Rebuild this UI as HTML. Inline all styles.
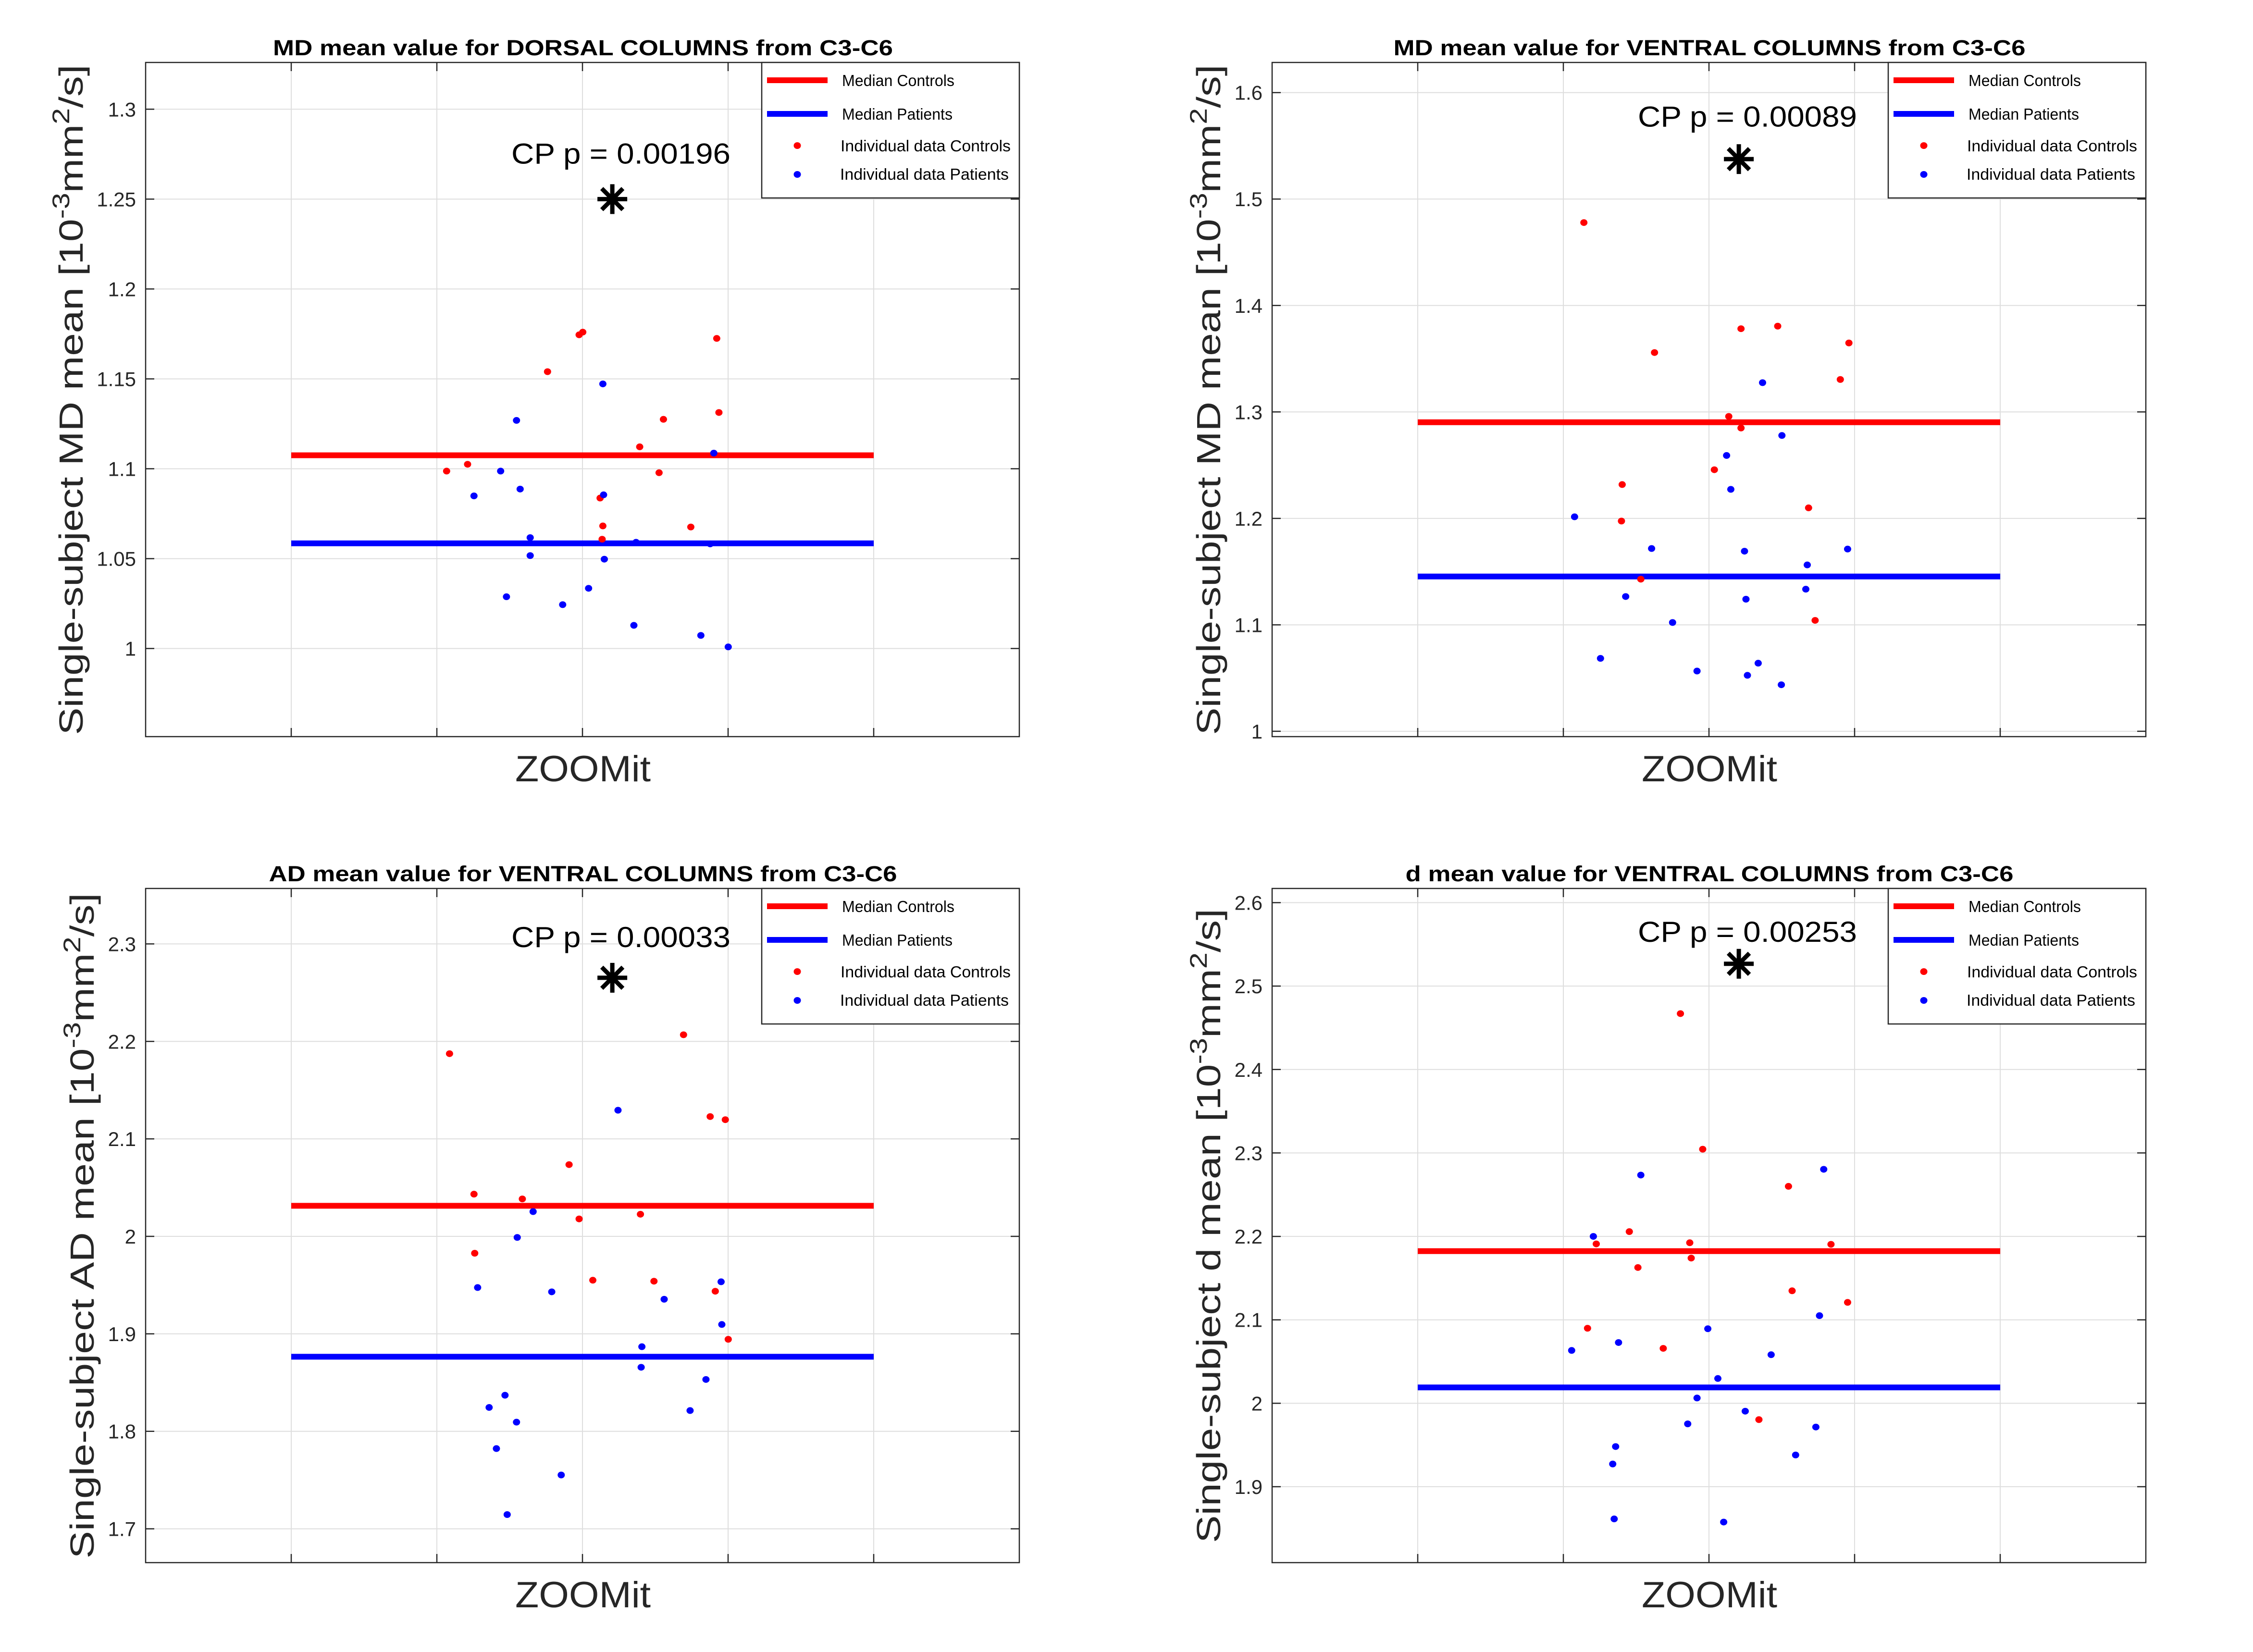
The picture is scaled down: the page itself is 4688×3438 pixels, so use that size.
<!DOCTYPE html>
<html><head><meta charset="utf-8">
<style>
html,body{margin:0;padding:0;background:#fff;}
svg{display:block;font-family:"Liberation Sans",sans-serif;}
</style></head>
<body>
<svg id="fig" width="4688" height="3438" viewBox="0 0 4688 3438" xmlns="http://www.w3.org/2000/svg"></svg>
<script>
// ---------- Panel 1: MD dorsal ----------
const p1Title = "MD mean value for DORSAL COLUMNS from C3-C6";
const p1YLabel = "MD";
const p1Ticks = [1, 1.05, 1.1, 1.15, 1.2, 1.25, 1.3];
const p1TickLabels = ["1", "1.05", "1.1", "1.15", "1.2", "1.25", "1.3"];
const p1YLim = [0.951, 1.326];
const p1MedianControls = 1.1075;
const p1MedianPatients = 1.0585;
const p1Pvalue = "CP p = 0.00196";
const p1StarY = 1.25;
const p1TextY = 1.2697;
const p1CtrlX = [2.067,2.211,2.760,2.977,3.002,3.121,3.140,3.135,3.393,3.526,3.556,3.744,3.922,3.937];
const p1CtrlY = [1.0987,1.1025,1.154,1.1745,1.176,1.0837,1.0682,1.0608,1.1122,1.0978,1.1275,1.0676,1.1725,1.1313];
const p1PatX = [2.255,2.438,2.547,2.572,2.641,2.641,2.478,2.864,3.042,3.140,3.145,3.150,3.353,3.368,3.813,3.877,3.902,4.001];
const p1PatY = [1.0849,1.0987,1.1269,1.0887,1.0617,1.0517,1.0288,1.0244,1.0335,1.1472,1.0855,1.0497,1.0129,1.0591,1.0073,1.0582,1.1087,1.0009];

// ---------- Panel 2: MD ventral ----------
const p2Title = "MD mean value for VENTRAL COLUMNS from C3-C6";
const p2YLabel = "MD";
const p2Ticks = [1, 1.1, 1.2, 1.3, 1.4, 1.5, 1.6];
const p2TickLabels = ["1", "1.1", "1.2", "1.3", "1.4", "1.5", "1.6"];
const p2YLim = [0.995, 1.6283];
const p2MedianControls = 1.2903;
const p2MedianPatients = 1.1454;
const p2Pvalue = "CP p = 0.00089";
const p2StarY = 1.5375;
const p2TextY = 1.568;
const p2CtrlX = [2.141,2.626,3.220,3.472,3.961,3.902,3.136,3.220,3.037,2.404,2.399,3.684,2.532,3.729];
const p2CtrlY = [1.4779,1.3558,1.3782,1.3806,1.3648,1.3305,1.2958,1.2849,1.2457,1.2318,1.1975,1.2099,1.1429,1.1042];
const p2PatX = [3.368,3.501,3.121,3.150,2.077,2.606,3.244,3.952,3.675,2.428,3.665,3.254,2.750,2.255,2.918,3.264,3.338,3.497];
const p2PatY = [1.3275,1.2779,1.2591,1.2273,1.2015,1.1717,1.1692,1.1712,1.1563,1.1266,1.1335,1.1241,1.1022,1.0685,1.0566,1.0526,1.064,1.0437];

// ---------- Panel 3: AD ventral ----------
const p3Title = "AD mean value for VENTRAL COLUMNS from C3-C6";
const p3YLabel = "AD";
const p3Ticks = [1.7, 1.8, 1.9, 2, 2.1, 2.2, 2.3];
const p3TickLabels = ["1.7", "1.8", "1.9", "2", "2.1", "2.2", "2.3"];
const p3YLim = [1.6653, 2.3569];
const p3MedianControls = 2.0314;
const p3MedianPatients = 1.8765;
const p3Pvalue = "CP p = 0.00033";
const p3StarY = 2.2653;
const p3TextY = 2.2967;
const p3CtrlX = [2.087,3.694,3.877,3.981,2.908,2.255,2.587,2.977,3.398,2.260,3.071,3.491,3.912,4.001];
const p3CtrlY = [2.1874,2.2068,2.1229,2.1197,2.0736,2.0433,2.0384,2.0179,2.0227,1.9827,1.955,1.954,1.9437,1.8944];
const p3PatX = [3.244,2.661,2.552,2.280,2.789,3.952,3.561,3.957,3.408,3.403,3.848,2.468,2.359,2.547,3.739,2.409,2.854,2.483];
const p3PatY = [2.1294,2.0254,1.9989,1.9475,1.9431,1.9534,1.9355,1.9096,1.8868,1.8657,1.8532,1.837,1.8245,1.8094,1.8213,1.7823,1.7552,1.7146];

// ---------- Panel 4: d ventral ----------
const p4Title = "d mean value for VENTRAL COLUMNS from C3-C6";
const p4YLabel = "d";
const p4Ticks = [1.9, 2, 2.1, 2.2, 2.3, 2.4, 2.5, 2.6];
const p4TickLabels = ["1.9", "2", "2.1", "2.2", "2.3", "2.4", "2.5", "2.6"];
const p4YLim = [1.809, 2.617];
const p4MedianControls = 2.1823;
const p4MedianPatients = 2.019;
const p4Pvalue = "CP p = 0.00253";
const p4StarY = 2.5267;
const p4TextY = 2.553;
const p4CtrlX = [2.804,2.957,3.546,2.453,2.226,2.868,2.878,2.512,3.838,3.571,3.952,2.166,2.686,3.343];
const p4CtrlY = [2.467,2.3045,2.260,2.2057,2.191,2.1924,2.174,2.1627,2.1905,2.1348,2.1209,2.0899,2.0658,1.9804];
const p4PatX = [2.206,2.532,3.788,3.759,2.992,2.057,2.379,3.427,3.061,2.918,3.249,2.854,3.734,2.359,3.595,2.339,2.349,3.101];
const p4PatY = [2.2,2.2735,2.2804,2.105,2.0893,2.0633,2.0728,2.0582,2.0297,2.0063,1.9905,1.9753,1.9715,1.9481,1.938,1.9272,1.8614,1.8576];

const xCategories = ["ZOOMit"];
const xLim = [0, 6];
const xGrid = [1, 2, 3, 4, 5];
const starX = 3.205;
const medianFrom = 1, medianTo = 5;

const NS = "http://www.w3.org/2000/svg";
const svg = document.getElementById('fig');
function mk(tag, attrs, parent){
  const e = document.createElementNS(NS, tag);
  for (const k in attrs) e.setAttribute(k, attrs[k]);
  (parent || svg).appendChild(e);
  return e;
}

const panels = [
  {ox:0, oy:0, title:p1Title, tlen:1290, ylab:p1YLabel, ticks:p1Ticks, tl:p1TickLabels, ylim:p1YLim, mc:p1MedianControls, mp:p1MedianPatients, pv:p1Pvalue, sy:p1StarY, ty:p1TextY, cx:p1CtrlX, cy:p1CtrlY, px:p1PatX, py:p1PatY, lab:"panel-md-dorsal", ylx:172, yll:1395},
  {ox:2344, oy:0, title:p2Title, tlen:1315, ylab:p2YLabel, ticks:p2Ticks, tl:p2TickLabels, ylim:p2YLim, mc:p2MedianControls, mp:p2MedianPatients, pv:p2Pvalue, sy:p2StarY, ty:p2TextY, cx:p2CtrlX, cy:p2CtrlY, px:p2PatX, py:p2PatY, lab:"panel-md-ventral", ylx:195, yll:1395},
  {ox:0, oy:1719, title:p3Title, tlen:1307, ylab:p3YLabel, ticks:p3Ticks, tl:p3TickLabels, ylim:p3YLim, mc:p3MedianControls, mp:p3MedianPatients, pv:p3Pvalue, sy:p3StarY, ty:p3TextY, cx:p3CtrlX, cy:p3CtrlY, px:p3PatX, py:p3PatY, lab:"panel-ad-ventral", ylx:195, yll:1385},
  {ox:2344, oy:1719, title:p4Title, tlen:1265, ylab:p4YLabel, ticks:p4Ticks, tl:p4TickLabels, ylim:p4YLim, mc:p4MedianControls, mp:p4MedianPatients, pv:p4Pvalue, sy:p4StarY, ty:p4TextY, cx:p4CtrlX, cy:p4CtrlY, px:p4PatX, py:p4PatY, lab:"panel-d-ventral", ylx:195, yll:1320},
];

const AX_L = 303, AX_R = 2121, AX_T = 130, AX_B = 1533;

panels.forEach(p => {
  const g = mk('g', {transform:`translate(${p.ox},${p.oy})`});
  
  
  const X = v => AX_L + (v - xLim[0]) / (xLim[1] - xLim[0]) * (AX_R - AX_L);
  const Y = v => AX_B - (v - p.ylim[0]) / (p.ylim[1] - p.ylim[0]) * (AX_B - AX_T);

  const grid = mk('g', {stroke:'#dedede', 'stroke-width':2}, g);
  
  
  p.ticks.forEach(t => mk('line', {x1:AX_L, x2:AX_R, y1:Y(t), y2:Y(t)}, grid));
  xGrid.forEach(t => mk('line', {x1:X(t), x2:X(t), y1:AX_T, y2:AX_B}, grid));

  const tg = mk('g', {stroke:'#262626', 'stroke-width':2.5}, g);
  
  
  p.ticks.forEach(t => {
    mk('line', {x1:AX_L, x2:AX_L+18, y1:Y(t), y2:Y(t)}, tg);
    mk('line', {x1:AX_R-18, x2:AX_R, y1:Y(t), y2:Y(t)}, tg);
  });
  xGrid.forEach(t => {
    mk('line', {x1:X(t), x2:X(t), y1:AX_B, y2:AX_B-18}, tg);
    mk('line', {x1:X(t), x2:X(t), y1:AX_T, y2:AX_T+18}, tg);
  });
  p.tl.forEach((s, i) => {
    const t = mk('text', {x:283, y:Y(p.ticks[i])+15, 'text-anchor':'end', 'font-size':42, fill:'#262626'}, g);
    t.textContent = s;
    
    
  });

  const mcl = mk('line', {x1:X(medianFrom), x2:X(medianTo), y1:Y(p.mc), y2:Y(p.mc), stroke:'#ff0000', 'stroke-width':12}, g);
  
  
  const mpl = mk('line', {x1:X(medianFrom), x2:X(medianTo), y1:Y(p.mp), y2:Y(p.mp), stroke:'#0000ff', 'stroke-width':12}, g);
  
  

  p.cx.forEach((v, i) => {
    const c = mk('ellipse', {cx:X(v), cy:Y(p.cy[i]), rx:7.5, ry:7, fill:'#ff0000'}, g);
    
    
  });
  p.px.forEach((v, i) => {
    const c = mk('ellipse', {cx:X(v), cy:Y(p.py[i]), rx:7.5, ry:7, fill:'#0000ff'}, g);
    
    
  });

  const sx = X(starX), sy = Y(p.sy);
  const star = mk('g', {stroke:'#000', 'stroke-width':9}, g);
  
  
  mk('line', {x1:sx-31, x2:sx+31, y1:sy, y2:sy}, star);
  mk('line', {x1:sx, x2:sx, y1:sy-31, y2:sy+31}, star);
  mk('line', {x1:sx-22, x2:sx+22, y1:sy-22, y2:sy+22}, star);
  mk('line', {x1:sx-22, x2:sx+22, y1:sy+22, y2:sy-22}, star);
  const pt = mk('text', {x:1064, y:Y(p.ty), 'font-size':60, fill:'#000', textLength:456, lengthAdjust:'spacingAndGlyphs'}, g);
  pt.textContent = p.pv;
  
  

  const box = mk('rect', {x:AX_L, y:AX_T, width:AX_R-AX_L, height:AX_B-AX_T, fill:'none', stroke:'#262626', 'stroke-width':2.5}, g);
  
  

  const tt = mk('text', {x:1213, y:115, 'text-anchor':'middle', 'font-size':45, 'font-weight':'bold', fill:'#000', textLength:p.tlen, lengthAdjust:'spacingAndGlyphs'}, g);
  tt.textContent = p.title;
  
  

  const xl = mk('text', {x:1213, y:1626, 'text-anchor':'middle', 'font-size':76, fill:'#262626', textLength:282, lengthAdjust:'spacingAndGlyphs'}, g);
  xl.textContent = xCategories[0];
  
  

  const yl = mk('text', {transform:`translate(${p.ylx},832) rotate(-90)`, 'text-anchor':'middle', 'font-size':70, fill:'#262626', textLength:p.yll, lengthAdjust:'spacingAndGlyphs'}, g);
  
  
  const s1 = mk('tspan', {}, yl); s1.textContent = `Single-subject ${p.ylab} mean [10`;
  const s2 = mk('tspan', {dy:-28, 'font-size':50}, yl); s2.textContent = '-3';
  const s3 = mk('tspan', {dy:28}, yl); s3.textContent = 'mm';
  const s4 = mk('tspan', {dy:-28, 'font-size':50}, yl); s4.textContent = '2';
  const s5 = mk('tspan', {dy:28}, yl); s5.textContent = '/s]';

  const lg = mk('g', {}, g);
  
  
  mk('rect', {x:1585, y:AX_T, width:AX_R-1585, height:412-AX_T, fill:'#fff', stroke:'#262626', 'stroke-width':2.5}, lg);
  mk('line', {x1:1596, x2:1722, y1:167, y2:167, stroke:'#ff0000', 'stroke-width':12}, lg);
  mk('line', {x1:1596, x2:1722, y1:237, y2:237, stroke:'#0000ff', 'stroke-width':12}, lg);
  mk('ellipse', {cx:1659, cy:303, rx:7.5, ry:7, fill:'#ff0000'}, lg);
  mk('ellipse', {cx:1659, cy:363, rx:7.5, ry:7, fill:'#0000ff'}, lg);
  const entries = [["Median Controls",1752,179,234],["Median Patients",1752,249,230],["Individual data Controls",1749,315,354],["Individual data  Patients",1748,374,351]];
  entries.forEach(e => {
    const t = mk('text', {x:e[1], y:e[2], 'font-size':33, fill:'#000', textLength:e[3], lengthAdjust:'spacingAndGlyphs'}, lg);
    t.textContent = e[0];
    
    
  });
});
</script>
</body></html>
